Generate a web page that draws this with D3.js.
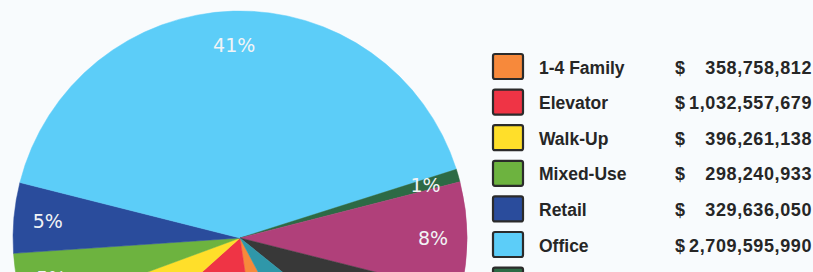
<!DOCTYPE html>
<html>
<head>
<meta charset="utf-8">
<script src="https://cdn.jsdelivr.net/npm/d3@7"></script>
<style>
  body { margin: 0; background: #f8fbfd; }
  svg { display: block; overflow: hidden; }
</style>
</head>
<body>
<div id="chart"></div>
<script>
// categories, in legend order (pie runs clockwise in the same order)
var categories = ["1-4 Family", "Elevator", "Walk-Up", "Mixed-Use", "Retail", "Office",
                  "Hotel", "Industrial", "Condo", "Other"];
var values = [358758812, 1032557679, 396261138, 298240933, 329636050, 2709595990,
              60000000, 520000000, 450000000, 425000000];
var colors = ["#f7893b", "#ef3445", "#ffdf2a", "#6db33f", "#2a4c9c", "#5ccdf8",
              "#2d6a45", "#b0407a", "#383838", "#2f97a9"];

var svgWidth = 813;
var svgHeight = 272;

var svg = d3.select("#chart")
    .append("svg")
    .attr("width", svgWidth)
    .attr("height", svgHeight);

var data = categories.map(function(c, i) {
    return { name: c, value: values[i], color: colors[i] };
});
var total = d3.sum(values);

// pie
var radius = 227;
var pieGroup = svg.append("g")
    .attr("transform", "translate(240,238)");

var startDeg = 152;
var pie = d3.pie()
    .sort(null)
    .value(d => d.value)
    .startAngle(startDeg * Math.PI / 180)
    .endAngle((startDeg + 360) * Math.PI / 180);

var arc = d3.arc().innerRadius(0).outerRadius(radius);
var labelArc = d3.arc().innerRadius(193).outerRadius(193);

var slices = pie(data);

pieGroup.selectAll("path")
    .data(slices)
    .enter()
    .append("path")
    .attr("d", arc)
    .attr("fill", d => d.data.color)
    .attr("stroke", d => d.data.color)
    .attr("stroke-width", 0.5);

pieGroup.selectAll("text")
    .data(slices)
    .enter()
    .append("text")
    .attr("transform", d => "translate(" + labelArc.centroid(d) + ")")
    .attr("text-anchor", "middle")
    .attr("dy", "0.36em")
    .attr("fill", "#f2f4f6")
    .style("font-family", "DejaVu Sans, sans-serif")
    .style("font-size", "19px")
    .text(d => Math.round(d.data.value / total * 100) + "%");

// legend
var fmt = d3.format(",");
var legendY = d3.scaleBand()
    .domain(categories)
    .range([49, 49 + 35.6 * categories.length]);

var legend = svg.append("g");
var rows = legend.selectAll("g")
    .data(data)
    .enter()
    .append("g")
    .attr("transform", d => "translate(0," + legendY(d.name) + ")");

rows.append("rect")
    .attr("x", 493)
    .attr("y", 5)
    .attr("width", 30)
    .attr("height", 25)
    .attr("rx", 2)
    .attr("fill", d => d.color)
    .attr("stroke", "#2b2b2b")
    .attr("stroke-width", 2.2);

rows.append("text")
    .attr("x", 539)
    .attr("y", 24.5)
    .attr("fill", "#262626")
    .style("font-family", "Liberation Sans, Arial, sans-serif")
    .style("font-weight", "bold")
    .style("font-size", "17.5px")
    .text(d => d.name);

rows.append("text")
    .attr("x", 675)
    .attr("y", 24.5)
    .attr("fill", "#262626")
    .style("font-family", "Liberation Sans, Arial, sans-serif")
    .style("font-weight", "bold")
    .style("font-size", "18px")
    .text("$");

rows.append("text")
    .attr("x", 812)
    .attr("y", 24.5)
    .attr("text-anchor", "end")
    .attr("fill", "#262626")
    .style("font-family", "Liberation Sans, Arial, sans-serif")
    .style("font-weight", "bold")
    .style("font-size", "18px")
    .style("letter-spacing", "0.6px")
    .text(d => fmt(d.value));
</script>
</body>
</html>
